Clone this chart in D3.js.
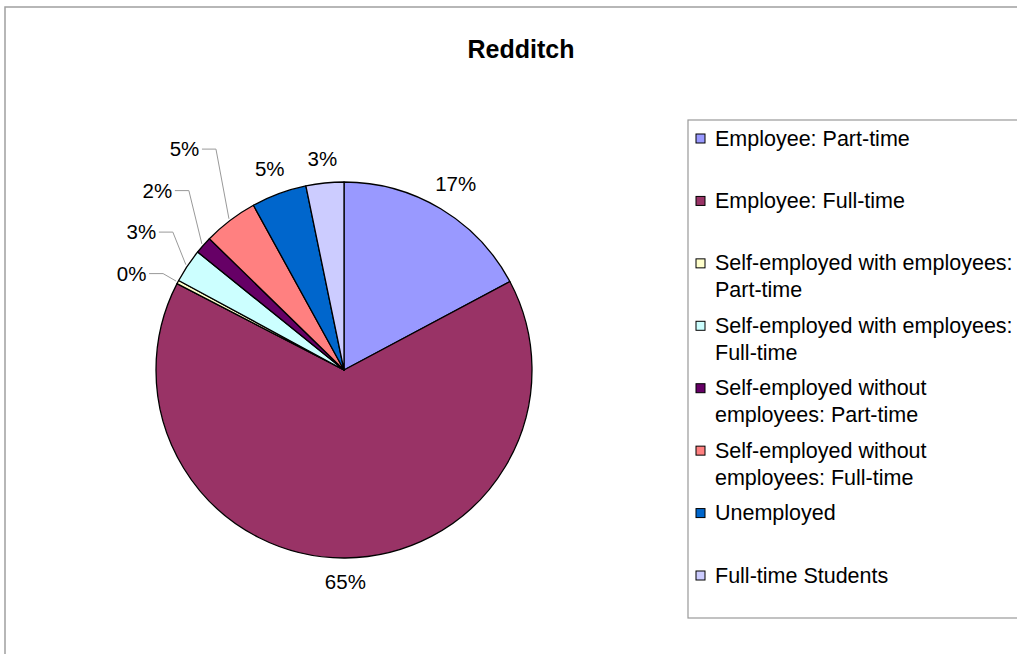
<!DOCTYPE html>
<html>
<head>
<meta charset="utf-8">
<script src="https://cdn.jsdelivr.net/npm/d3@7"></script>
<style>
  body { margin: 0; background: #fff; }
  text { font-family: "Liberation Sans", Arial, sans-serif; }
</style>
</head>
<body>
<script>
// Redditch - economic activity pie

var categories = [
    "Employee: Part-time",
    "Employee: Full-time",
    "Self-employed with employees: Part-time",
    "Self-employed with employees: Full-time",
    "Self-employed without employees: Part-time",
    "Self-employed without employees: Full-time",
    "Unemployed",
    "Full-time Students"
];
// legend lines (wrapped as in the picture)
var legendLines = [
    ["Employee: Part-time"],
    ["Employee: Full-time"],
    ["Self-employed with employees:", "Part-time"],
    ["Self-employed with employees:", "Full-time"],
    ["Self-employed without", "employees: Part-time"],
    ["Self-employed without", "employees: Full-time"],
    ["Unemployed"],
    ["Full-time Students"]
];
var shares = [17.2, 65.4, 0.3, 2.9, 1.5, 4.7, 4.75, 3.25];
var sliceLabels = ["17%", "65%", "0%", "3%", "2%", "5%", "5%", "3%"];
var colours = ["#9999FF", "#993366", "#FFFFCC", "#CCFFFF", "#660066", "#FF8080", "#0066CC", "#CCCCFF"];

var width = 1017, height = 654;
var cx = 344, cy = 370, r = 188;

var svg = d3.select("body").append("svg")
    .attr("width", width)
    .attr("height", height);

// outer chart frame (runs off the right / bottom)
svg.append("rect")
    .attr("x", 5).attr("y", 7)
    .attr("width", 1100).attr("height", 700)
    .style("fill", "#fff")
    .style("stroke", "#a0a0a0")
    .style("stroke-width", 1.5);

svg.append("text")
    .attr("x", 521).attr("y", 49)
    .attr("text-anchor", "middle")
    .attr("dy", "0.35em")
    .style("font-size", "25px")
    .style("font-weight", "bold")
    .text("Redditch");

// ====== PIE ======
var pie = d3.pie().sort(null).value(function(d) { return d; });
var arcs = pie(shares);
var arc = d3.arc().innerRadius(0).outerRadius(r);

var g = svg.append("g").attr("transform", "translate(" + cx + "," + cy + ")");

g.selectAll(".slice")
    .data(arcs)
    .enter().append("path")
        .attr("class", "slice")
        .attr("d", arc)
        .style("fill", function(d, i) { return colours[i] })
        .style("stroke", "#000")
        .style("stroke-width", 1.3)
        .style("stroke-linejoin", "round");

// ====== LABELS ======
var labR = r + 24;
var fontSize = 20.5;
var labs = arcs.map(function(d, i) {
    var a = (d.startAngle + d.endAngle) / 2;
    var w = sliceLabels[i].length * 11.5 + 6;
    // wider boxes sit a little further out at the sides
    var rr = labR + (w / 2) * Math.abs(Math.sin(a)) * 0.5;
    return {
        i: i, a: a, w: w,
        x: rr * Math.sin(a),
        y: -rr * Math.cos(a),
        nx: labR * Math.sin(a),
        ny: -labR * Math.cos(a),
        px: (r + 2) * Math.sin(a),
        py: -(r + 2) * Math.cos(a),
        thin: (d.endAngle - d.startAngle) * r < 20,
        leader: false
    };
});

// left side, going up from the bottom: stack labels that crowd each other
var left = labs.filter(function(l) { return l.a > Math.PI * 1.25; });
left.sort(function(p, q) { return q.ny - p.ny; });
var prev = null;
left.forEach(function(l) {
    var crowded = prev && Math.abs(l.nx - prev.nx) < l.w + 6 && prev.ny - l.ny < 42;
    if (crowded) {
        l.y = Math.min(l.ny, prev.y - 41.5);
        l.moved = true;
    } else if (l.thin) {
        l.y = -(r + 18) * Math.cos(l.a);
    }
    if (l.moved || l.thin) {
        l.leader = true;
        l.ex = l.px - 13;
        l.x = l.ex - 17 - l.w / 2;
    }
    prev = l;
});

g.selectAll(".leader")
    .data(labs.filter(function(l) { return l.leader }))
    .enter().append("polyline")
        .attr("class", "leader")
        .attr("points", function(l) {
            return [[l.ex - 14, l.y], [l.ex, l.y], [l.px, l.py]].map(function(p) { return p.join(",") }).join(" ");
        })
        .style("fill", "none")
        .style("stroke", "#999")
        .style("stroke-width", 1);

g.selectAll(".lab")
    .data(labs)
    .enter().append("text")
        .attr("class", "lab")
        .attr("x", function(l) { return l.x })
        .attr("y", function(l) { return l.y })
        .attr("dy", "0.35em")
        .attr("text-anchor", "middle")
        .style("font-size", fontSize + "px")
        .style("fill", "#000")
        .text(function(l) { return sliceLabels[l.i] });

// ====== LEGEND ======
var lx = 688, ly = 120;
svg.append("rect")
    .attr("x", lx).attr("y", ly)
    .attr("width", 400).attr("height", 498)
    .style("fill", "#fff")
    .style("stroke", "#999")
    .style("stroke-width", 1.2);

var itemY = d3.scaleLinear().domain([0, categories.length - 1]).range([138, 575]);

var items = svg.selectAll(".item")
    .data(categories)
    .enter().append("g")
        .attr("class", "item")
        .attr("transform", function(d, i) { return "translate(" + lx + "," + itemY(i) + ")" });

items.append("rect")
    .attr("x", 8).attr("y", -4)
    .attr("width", 9).attr("height", 9)
    .style("fill", function(d, i) { return colours[i] })
    .style("stroke", "#000")
    .style("stroke-width", 1);

items.each(function(d, i) {
    var t = d3.select(this).append("text")
        .attr("x", 27).attr("y", 0)
        .style("font-size", "21.5px")
        .style("fill", "#000");
    legendLines[i].forEach(function(line, k) {
        t.append("tspan")
            .attr("x", 27)
            .attr("y", k * 27)
            .attr("dy", "0.35em")
            .text(line);
    });
});
</script>
</body>
</html>
